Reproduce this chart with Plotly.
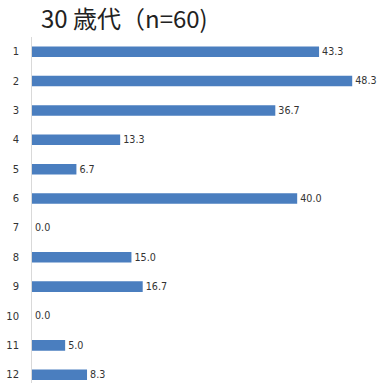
import plotly.graph_objects as go

# Data
categories = ["1", "2", "3", "4", "5", "6", "7", "8", "9", "10", "11", "12"]
values = [43.3, 48.3, 36.7, 13.3, 6.7, 40.0, 0.0, 15.0, 16.7, 0.0, 5.0, 8.3]
title_text = "30 歳代（n=60)"

fig = go.Figure(go.Bar(
    x=values,
    y=categories,
    orientation="h",
    width=0.36,
    marker=dict(color="#4a7ebf", line=dict(width=0)),
    text=[f"{v:.1f}" for v in values],
    textposition="outside",
    textfont=dict(family="DejaVu Sans", size=10, color="#333333"),
    cliponaxis=False,
))

fig.update_layout(
    width=390,
    height=383,
    margin=dict(l=32, r=0, t=37, b=0),
    paper_bgcolor="white",
    plot_bgcolor="white",
    showlegend=False,
    title=dict(
        text=title_text,
        x=0, xref="paper", xanchor="left",
        y=0.95, yref="container", yanchor="middle",
        pad=dict(l=9),
        font=dict(family="Noto Sans CJK JP", size=24, color="#222222"),
        automargin=False,
    ),
    xaxis=dict(
        range=[0, 54],
        showgrid=False, zeroline=False, showticklabels=False,
        showline=False, automargin=False,
    ),
    yaxis=dict(
        type="category",
        range=[11.28, -0.5],
        showgrid=False, zeroline=False,
        showline=True, linecolor="#d9d9d9", linewidth=1,
        ticks="", ticklabelstandoff=10, automargin=False,
        tickfont=dict(family="DejaVu Sans", size=10, color="#333333"),
    ),
)

# drop the page's default body margin so the figure fills the window
fig.write_html("out.html", config={"displayModeBar": False},
               post_script="document.body.style.margin='0';")
